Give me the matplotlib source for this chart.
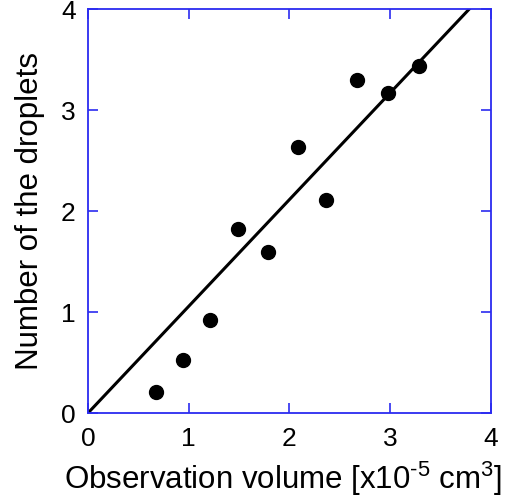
import matplotlib
matplotlib.use("Agg")
import matplotlib.pyplot as plt
import numpy as np

plt.rcParams['font.family'] = ['Liberation Sans', 'DejaVu Sans']
plt.rcParams['mathtext.fontset'] = 'custom'
plt.rcParams['mathtext.rm'] = 'Liberation Sans'

# measured data (observation volume x1e-5 cm3, number of droplets)
vol = [0.67, 0.94, 1.21, 1.49, 1.79, 2.08, 2.36, 2.67, 2.98, 3.29]
drops = [0.21, 0.53, 0.92, 1.82, 1.60, 2.64, 2.11, 3.30, 3.17, 3.44]
slope = 1.058  # fitted line through origin
ticks = [0, 1, 2, 3, 4]

fig = plt.figure(figsize=(5.12, 4.97), dpi=100)
ax = fig.add_axes([0.1719, 0.169, 0.787, 0.812])

xl = np.array([0, 4])
ax.plot(xl, slope * xl, color='black', lw=2.2, zorder=2)
ax.plot(vol, drops, 'o', color='black', ms=10, zorder=3)

ax.set_xlim(0, 4)
ax.set_ylim(0, 4)
ax.set_xticks(ticks)
ax.set_yticks(ticks)
ax.tick_params(direction='in', length=7, width=1.2, color='#2b2bf0',
               labelsize=19, top=True, right=True)
ax.tick_params(axis='x', pad=10)
ax.tick_params(axis='y', pad=9)
for s in ax.spines.values():
    s.set_color('#2b2bf0')
    s.set_linewidth(1.3)

ax.set_xlabel(r'Observation volume [x10$\mathrm{^{\text{-}5}}$ cm$\mathrm{^3}$]',
              fontsize=22.5)
ax.xaxis.set_label_coords(0.485, -0.115)
ax.set_ylabel('Number of the droplets', fontsize=22.5, labelpad=11)

fig.savefig('out.png', dpi=100)
